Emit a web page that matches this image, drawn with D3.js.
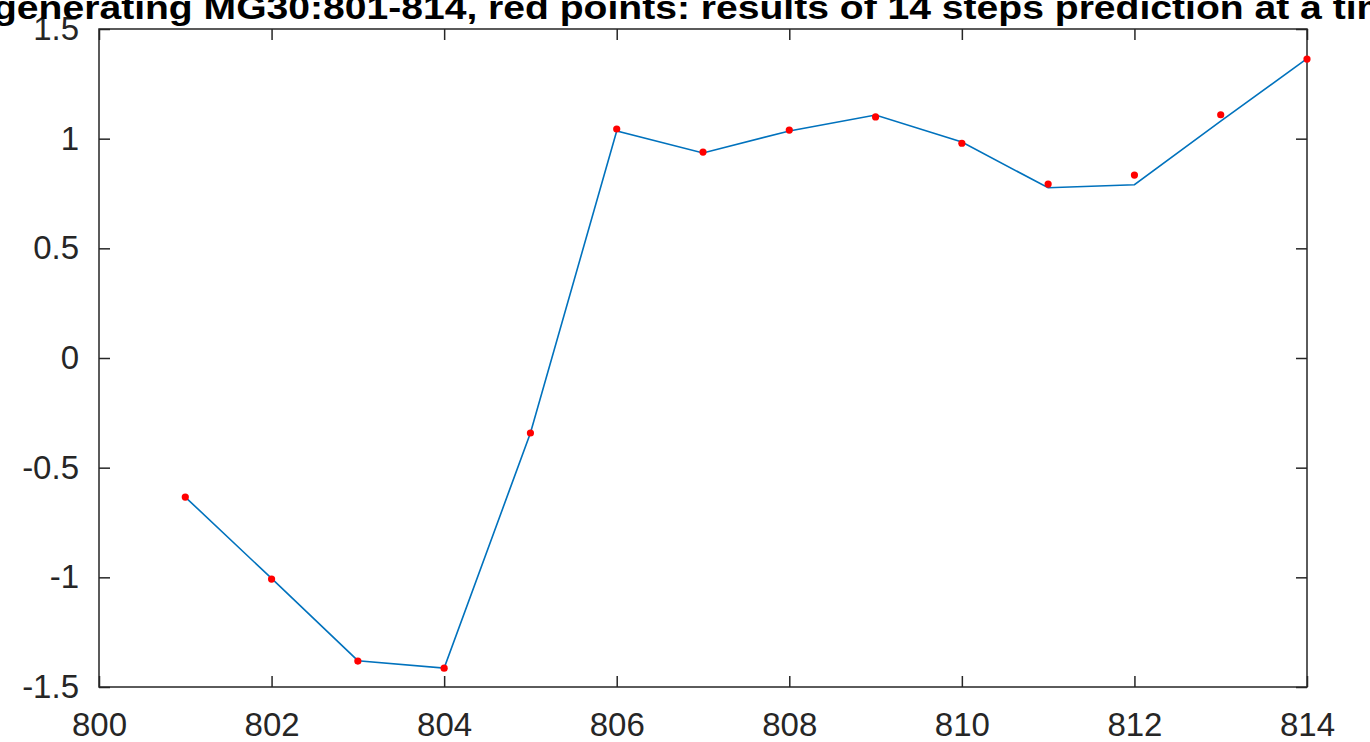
<!DOCTYPE html>
<html>
<head>
<meta charset="utf-8">
<script src="https://cdn.jsdelivr.net/npm/d3@7"></script>
<style>
  html, body { margin: 0; padding: 0; background: #fff; overflow: hidden; }
  svg { display: block; }
  text { font-family: "Liberation Sans", Arial, Helvetica, sans-serif; }
</style>
</head>
<body>
<div id="chart"></div>
<script>
// time index 801..814
const steps = [801, 802, 803, 804, 805, 806, 807, 808, 809, 810, 811, 812, 813, 814];
// blue line: MG30 series
const actual = [-0.634, -1.005, -1.38, -1.414, -0.342, 1.035, 0.935, 1.035, 1.108, 0.985, 0.776, 0.79, 1.08, 1.365];
// red points: 14 steps prediction
const predicted = [-0.634, -1.008, -1.382, -1.414, -0.342, 1.044, 0.939, 1.039, 1.099, 0.979, 0.793, 0.834, 1.109, 1.363];

const xTicks = [800, 802, 804, 806, 808, 810, 812, 814];
const yTicks = [-1.5, -1, -0.5, 0, 0.5, 1, 1.5];

const titleText = "generating MG30:801-814, red points: results of 14 steps prediction at a time";

const W = 1370, H = 742;
const margin = { top: 29, right: 63, bottom: 55, left: 99 };
const width = W - margin.left - margin.right;
const height = H - margin.top - margin.bottom;
const axisColor = "#262626";

const svg = d3.select("#chart").append("svg")
    .attr("width", W)
    .attr("height", H);

const x = d3.scaleLinear().domain([800, 814]).range([0, width]);
const y = d3.scaleLinear().domain([-1.5, 1.5]).range([height, 0]);

const g = svg.append("g").attr("transform", `translate(${margin.left}, ${margin.top})`);

// inward ticks on all four sides, like a boxed matlab axes
const tickLen = 11;
const fmt = (d) => String(d);

const styleAxis = (sel) => {
    sel.select(".domain").remove();
    sel.selectAll(".tick line").attr("stroke", axisColor).attr("stroke-width", 1.5);
    sel.selectAll(".tick text")
        .attr("fill", axisColor)
        .style("font-size", "33px");
};

g.append("g")
    .attr("transform", `translate(0, ${height})`)
    .call(d3.axisBottom(x).tickValues(xTicks).tickFormat(fmt).tickSizeInner(-tickLen).tickSizeOuter(0).tickPadding(26))
    .call(styleAxis);

g.append("g")
    .call(d3.axisTop(x).tickValues(xTicks).tickFormat("").tickSizeInner(-tickLen).tickSizeOuter(0))
    .call(styleAxis);

g.append("g")
    .call(d3.axisLeft(y).tickValues(yTicks).tickFormat(fmt).tickSizeInner(-tickLen).tickSizeOuter(0).tickPadding(20))
    .call(styleAxis);

g.append("g")
    .attr("transform", `translate(${width}, 0)`)
    .call(d3.axisRight(y).tickValues(yTicks).tickFormat("").tickSizeInner(-tickLen).tickSizeOuter(0))
    .call(styleAxis);

// box
g.append("rect")
    .attr("x", 0).attr("y", 0)
    .attr("width", width).attr("height", height)
    .attr("fill", "none")
    .attr("stroke", axisColor)
    .attr("stroke-width", 1.5);

const line = d3.line()
    .x((d, i) => x(steps[i]))
    .y((d) => y(d));

g.append("path")
    .datum(actual)
    .attr("fill", "none")
    .attr("stroke", "#0072BD")
    .attr("stroke-width", 1.6)
    .attr("d", line);

g.selectAll("circle.pred")
    .data(predicted)
    .enter()
    .append("circle")
    .attr("class", "pred")
    .attr("cx", (d, i) => x(steps[i]))
    .attr("cy", (d) => y(d))
    .attr("r", 3.6)
    .attr("fill", "#FF0000");

// title is wider than the window in the original, so it runs off both edges
svg.append("text")
    .attr("x", margin.left + width / 2)
    .attr("y", 19)
    .attr("text-anchor", "middle")
    .attr("textLength", 1420)
    .attr("lengthAdjust", "spacingAndGlyphs")
    .attr("fill", "#000")
    .style("font-size", "34px")
    .style("font-weight", "bold")
    .text(titleText);
</script>
</body>
</html>
